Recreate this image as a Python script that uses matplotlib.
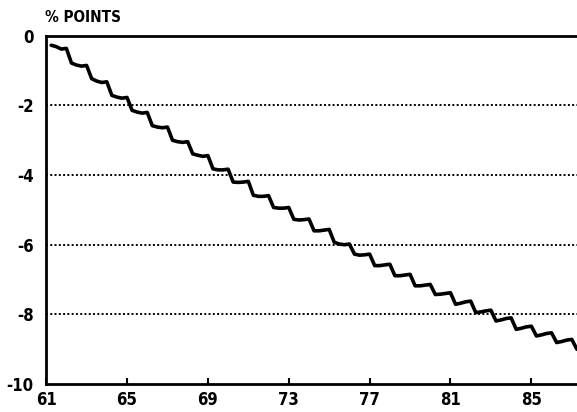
import matplotlib
matplotlib.use("Agg")
import matplotlib.pyplot as plt
import numpy as np
import pandas as pd

# Quarterly observations starting 1961Q2
start_quarter = "1961Q2"
values = [
    -0.27, -0.31, -0.38,                 # 1961 Q2-Q4
    -0.36, -0.78, -0.84, -0.87,          # 1962
    -0.85, -1.23, -1.30, -1.34,          # 1963
    -1.32, -1.71, -1.76, -1.79,          # 1964
    -1.77, -2.14, -2.19, -2.22,          # 1965
    -2.20, -2.58, -2.62, -2.64,          # 1966
    -2.62, -3.00, -3.04, -3.06,          # 1967
    -3.04, -3.39, -3.43, -3.46,          # 1968
    -3.44, -3.82, -3.85, -3.85,          # 1969
    -3.83, -4.20, -4.21, -4.20,          # 1970
    -4.18, -4.58, -4.61, -4.61,          # 1971
    -4.59, -4.93, -4.95, -4.95,          # 1972
    -4.93, -5.27, -5.29, -5.28,          # 1973
    -5.26, -5.60, -5.60, -5.58,          # 1974
    -5.56, -5.93, -5.98, -6.00,          # 1975
    -5.98, -6.27, -6.30, -6.29,          # 1976
    -6.27, -6.60, -6.60, -6.58,          # 1977
    -6.56, -6.89, -6.89, -6.87,          # 1978
    -6.85, -7.18, -7.18, -7.16,          # 1979
    -7.14, -7.43, -7.42, -7.40,          # 1980
    -7.38, -7.71, -7.68, -7.64,          # 1981
    -7.62, -7.95, -7.93, -7.90,          # 1982
    -7.88, -8.19, -8.16, -8.12,          # 1983
    -8.10, -8.43, -8.40, -8.36,          # 1984
    -8.34, -8.62, -8.59, -8.55,          # 1985
    -8.53, -8.81, -8.78, -8.74,          # 1986
    -8.72, -9.00, -9.06,                 # 1987
]

x_ticks = [1961, 1965, 1969, 1973, 1977, 1981, 1985]
x_tick_labels = ["61", "65", "69", "73", "77", "81", "85"]
y_ticks = [0, -2, -4, -6, -8, -10]
y_tick_labels = ["0", "-2", "-4", "-6", "-8", "-10"]
grid_levels = [-2, -4, -6, -8]
title_text = "% POINTS"

periods = pd.period_range(start_quarter, periods=len(values), freq="Q")
t = periods.year + (periods.quarter - 1) / 4.0

font = ["DejaVu Sans"]
tprops = dict(fontfamily=font, fontweight="bold", fontstretch="condensed", fontsize=12)
hprops = dict(fontfamily=font, fontweight="bold", fontstretch="condensed", fontsize=11)

fig = plt.figure(figsize=(5.77, 4.12), dpi=100)
ax = fig.add_axes([0.080, 0.068, 0.925, 0.845])

for g in grid_levels:
    ax.axhline(g, color="black", lw=1.4, linestyle=(0, (1, 1.2)), zorder=1)

ax.plot(t, values, color="black", lw=2.6, solid_joinstyle="round",
        solid_capstyle="round", zorder=3)

ax.set_xlim(1961, 1987.4)
ax.set_ylim(-10, 0)

ax.set_xticks(x_ticks)
ax.set_xticklabels(x_tick_labels, **tprops)
ax.set_yticks(y_ticks)
ax.set_yticklabels(y_tick_labels, **tprops)

ax.tick_params(axis="x", direction="in", length=4, width=1.5, pad=5)
ax.tick_params(axis="y", length=0, pad=9)

for side in ["left", "bottom", "top"]:
    ax.spines[side].set_linewidth(2.0)
ax.spines["right"].set_visible(False)

fig.text(0.078, 0.958, title_text, va="center", ha="left", **hprops)

fig.savefig("out.png", dpi=100, facecolor="white")
